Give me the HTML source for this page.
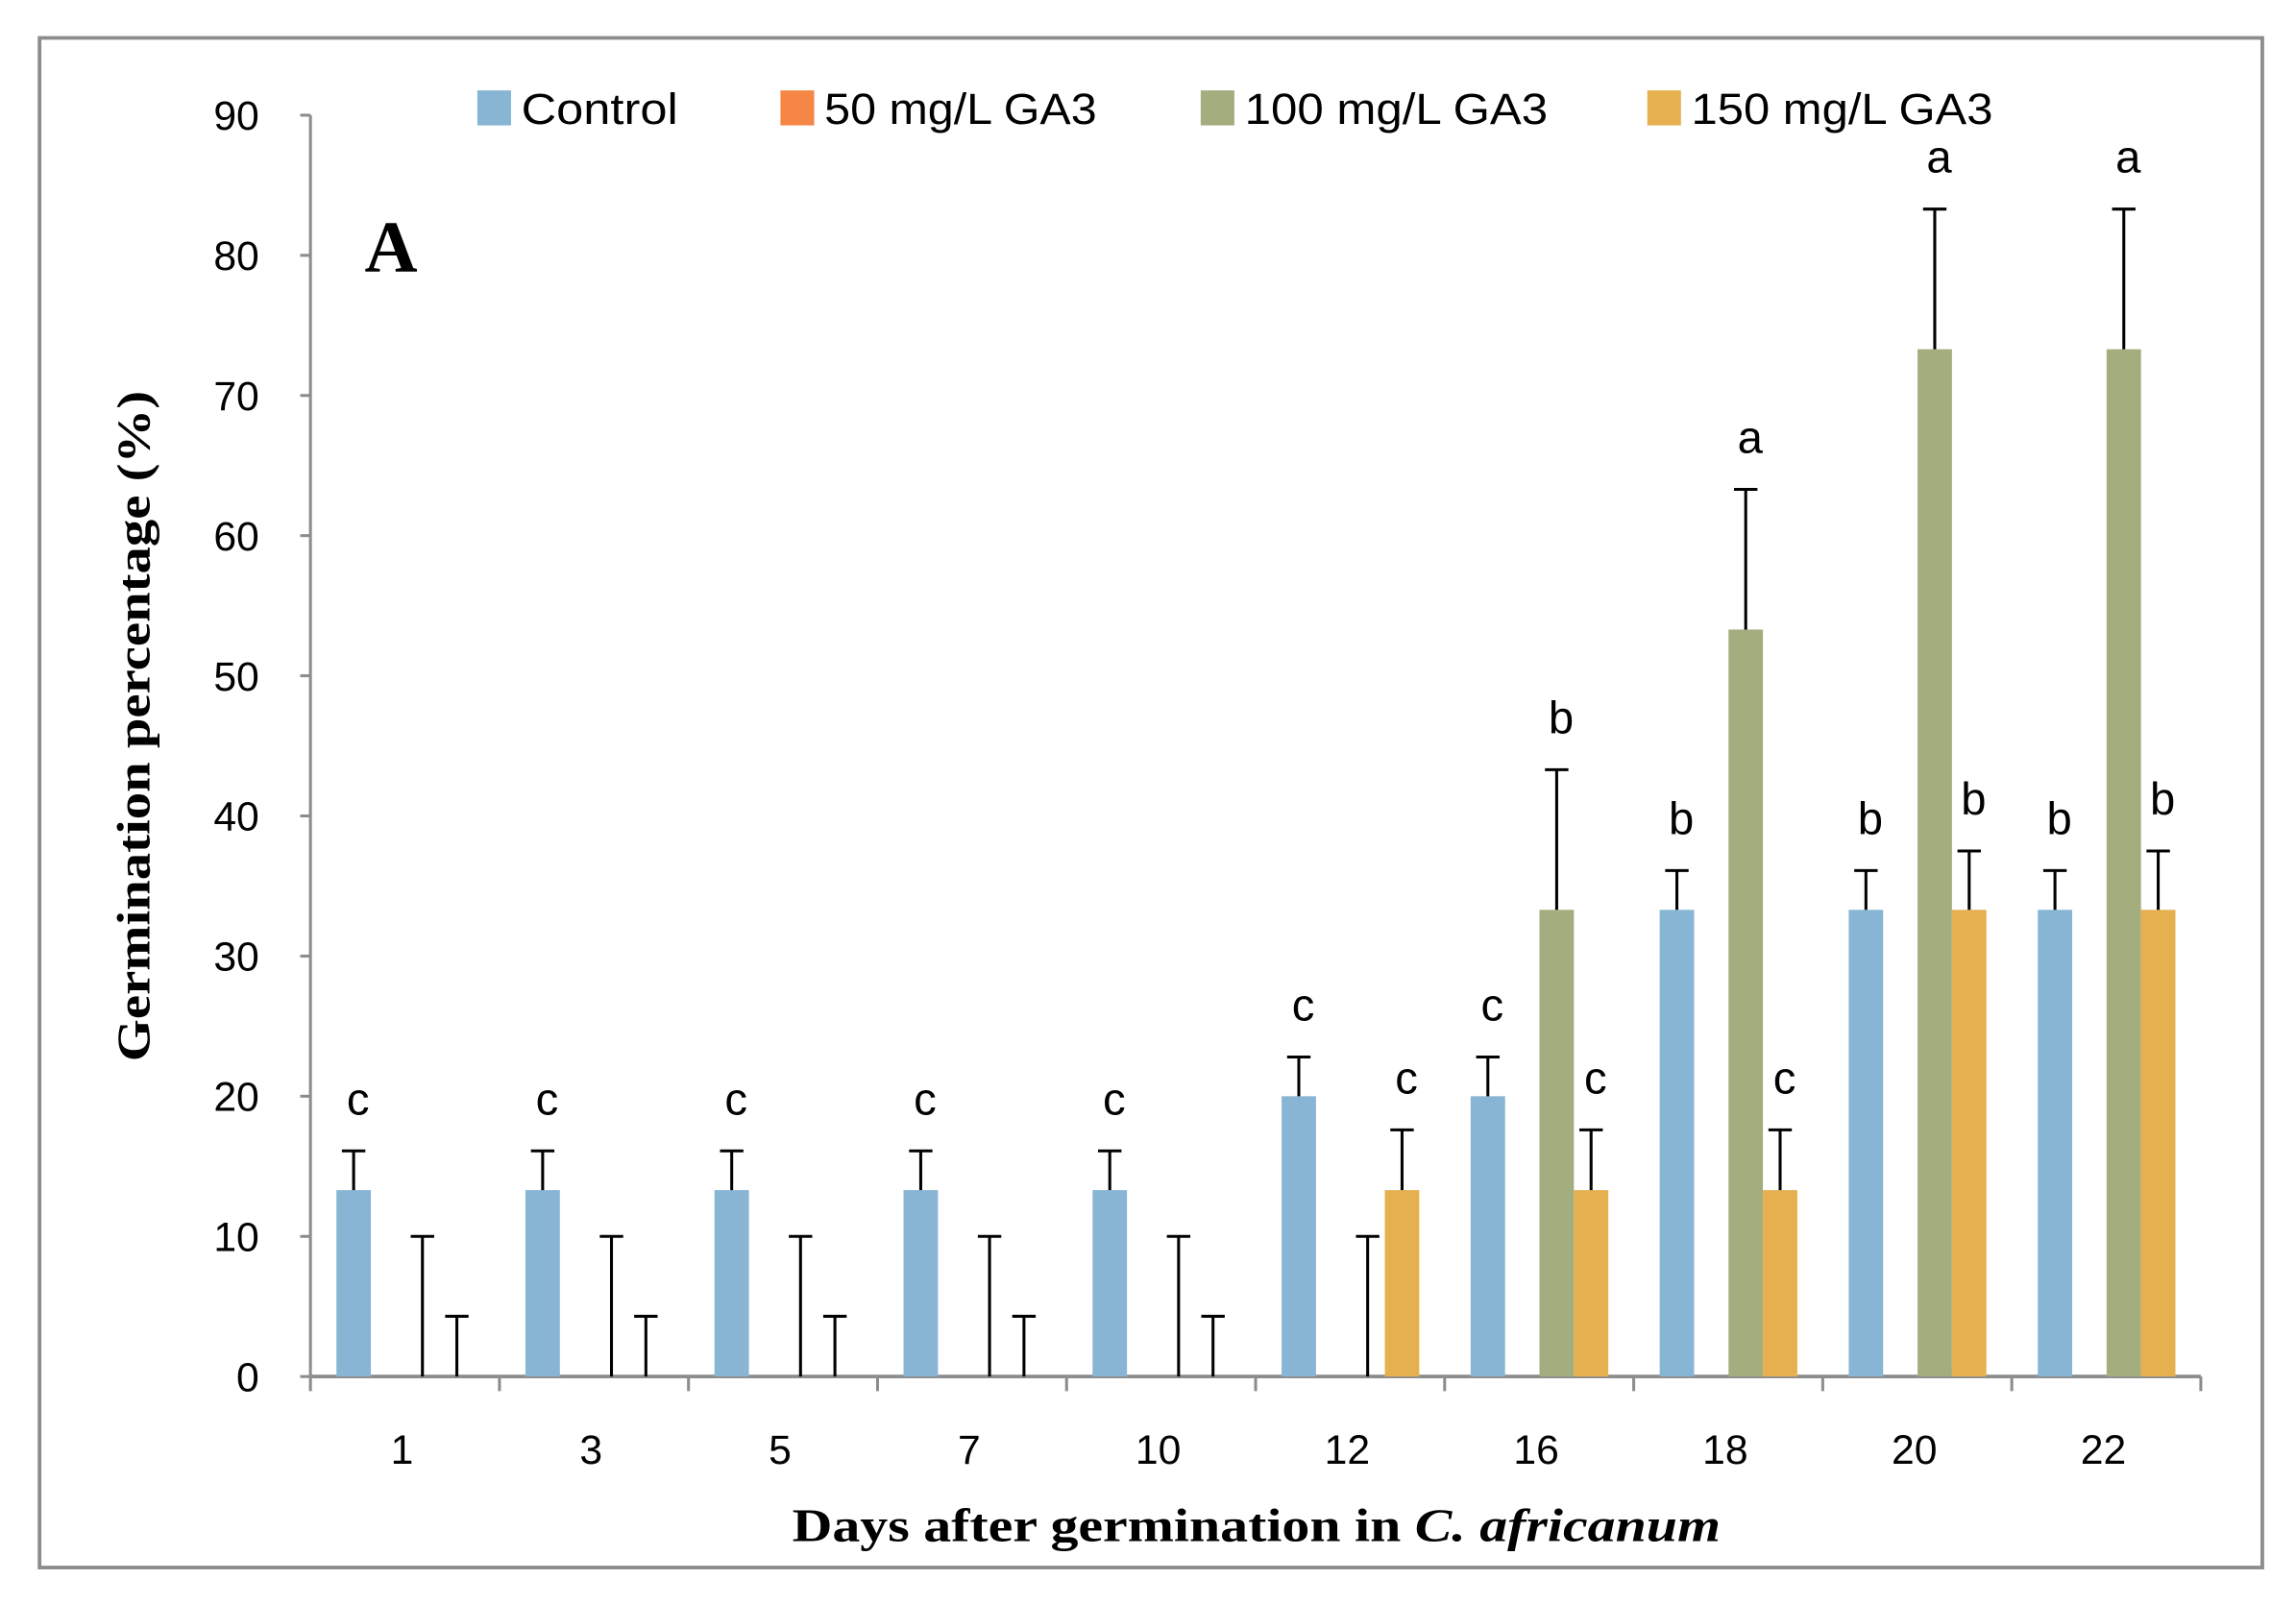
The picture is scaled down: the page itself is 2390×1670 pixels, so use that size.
<!DOCTYPE html>
<html><head><meta charset="utf-8"><style>
html,body{margin:0;padding:0;background:#fff;}
svg{display:block;}
.t{font-family:"Liberation Sans Narrow","Liberation Sans",sans-serif;fill:#000;}
.s{font-family:"Liberation Serif",serif;font-weight:bold;fill:#000;}
</style></head><body>
<svg id="chart" width="2390" height="1670" viewBox="0 0 1568 1100" preserveAspectRatio="none" xmlns="http://www.w3.org/2000/svg">
<rect x="27" y="26" width="1518" height="1049" fill="#fff" stroke="#8c8c8c" stroke-width="2.5"/>
<g id="axes"></g>
<g id="bars"></g>
<g id="legend"></g>
<text class="s" x="249" y="186" font-size="50">A</text>
<text class="s" font-size="32" transform="translate(102,498) rotate(-90)" text-anchor="middle" textLength="460" lengthAdjust="spacingAndGlyphs">Germination percentage (%)</text>
<text class="s" font-size="32" x="858" y="1057" text-anchor="middle" textLength="634" lengthAdjust="spacingAndGlyphs">Days after germination in <tspan font-style="italic">C. africanum</tspan></text>
</svg>
<script>
const categories = ["1","3","5","7","10","12","16","18","20","22"];
const seriesNames = ["Control","50 mg/L GA3","100 mg/L GA3","150 mg/L GA3"];
const seriesColors = ["#87b5d3","#f58646","#a3ad7e","#e6b050"];
const control = [13.3,13.3,13.3,13.3,13.3,20,20,33.3,33.3,33.3];
const controlErr = [2.8,2.8,2.8,2.8,2.8,2.8,2.8,2.8,2.8,2.8];
const ga50 = [0,0,0,0,0,0,0,0,0,0];
const ga50Err = [0,0,0,0,0,0,0,0,0,0];
const ga100 = [0,0,0,0,0,0,33.3,53.3,73.3,73.3];
const ga100Err = [10,10,10,10,10,10,10,10,10,10];
const ga150 = [0,0,0,0,0,13.3,13.3,13.3,33.3,33.3];
const ga150Err = [4.3,4.3,4.3,4.3,4.3,4.3,4.3,4.3,4.2,4.2];
const controlLetters = ["c","c","c","c","c","c","c","b","b","b"];
const ga100Letters = ["","","","","","","b","a","a","a"];
const ga150Letters = ["","","","","","c","c","c","b","b"];
const yTicks = [0,10,20,30,40,50,60,70,80,90];

const NS="http://www.w3.org/2000/svg";
const X0=212, X1=1503, Y0=944, Y90=79;
const gw=(X1-X0)/categories.length;
const y=v=>Y0-(v/90)*(Y0-Y90);
const offsets=[29.5,53,76.5,100];
const bw=23.5;
const legendW=[107,186,207,206];
function mk(tag,attrs,parent){const e=document.createElementNS(NS,tag);for(const k in attrs)e.setAttribute(k,attrs[k]);parent.appendChild(e);return e;}
const axes=document.getElementById('axes'), bars=document.getElementById('bars'), legend=document.getElementById('legend');
let el=mk('line',{x1:X0,y1:Y90,x2:X0,y2:Y0,stroke:'#8c8c8c','stroke-width':2},axes);


el=mk('line',{x1:X0,y1:Y0,x2:X1,y2:Y0,stroke:'#8c8c8c','stroke-width':2.5},axes);


yTicks.forEach(v=>{
  const t=mk('line',{x1:X0-7,y1:y(v),x2:X0,y2:y(v),stroke:'#8c8c8c','stroke-width':2},axes);
  
  
  const l=mk('text',{x:177,y:y(v)+10,'text-anchor':'end','font-size':28,class:'t'},axes);
  l.textContent=v;
  
  
});
for(let i=0;i<=categories.length;i++){
  const t=mk('line',{x1:X0+i*gw,y1:Y0,x2:X0+i*gw,y2:Y0+10,stroke:'#8c8c8c','stroke-width':2},axes);
  
  
}
categories.forEach((c,i)=>{
  const l=mk('text',{x:X0+(i+0.5)*gw-2,y:1004,'text-anchor':'middle','font-size':28,class:'t'},axes);
  l.textContent=c;
  
  
});
const series=[[control,controlErr,controlLetters],[ga50,ga50Err,null],[ga100,ga100Err,ga100Letters],[ga150,ga150Err,ga150Letters]];
series.forEach((s,si)=>{
  const [vals,errs,lets]=s;
  vals.forEach((v,i)=>{
    const cx=X0+i*gw+offsets[si];
    if(v>0){
      const r=mk('rect',{x:cx-bw/2,y:y(v),width:bw,height:Y0-y(v),fill:seriesColors[si]},bars);
      
      
    }
    const e=errs[i];
    if(e>0){
      const top=y(v+e);
      const g=mk('path',{d:`M${cx} ${y(v)} V${top} M${cx-8} ${top} H${cx+8}`,stroke:'#000','stroke-width':2,fill:'none'},bars);
      
      
    }
    if(lets&&lets[i]){
      const t=mk('text',{x:cx+3,y:y(v+e)-25,'text-anchor':'middle','font-size':31,class:'t'},bars);
      t.textContent=lets[i];
      
      
    }
  });
});
const lx=[326,533,820,1125];
seriesNames.forEach((n,i)=>{
  const r=mk('rect',{x:lx[i],y:62,width:23,height:24,fill:seriesColors[i]},legend);
  
  
  const t=mk('text',{x:lx[i]+30,y:85,'font-size':30,class:'t',textLength:legendW[i],lengthAdjust:'spacingAndGlyphs'},legend);
  t.textContent=n;
  
  
});
</script>
</body></html>
